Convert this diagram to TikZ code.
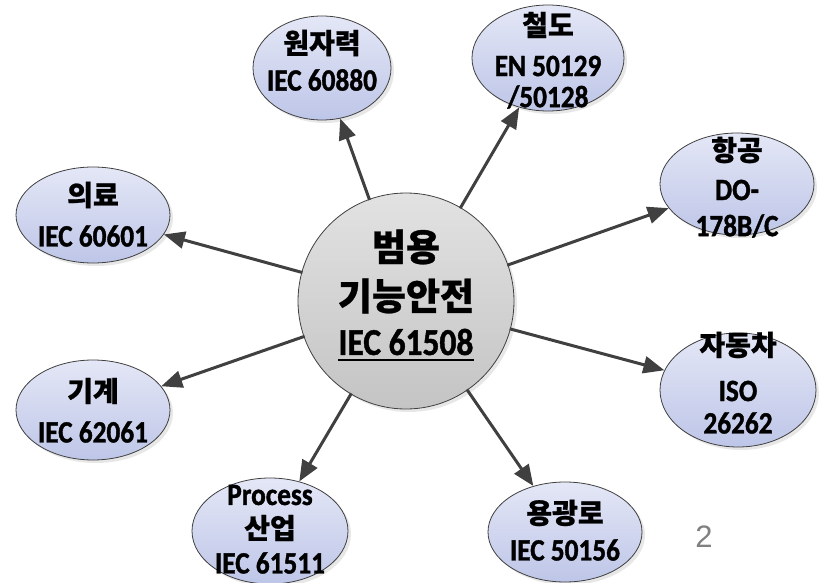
\documentclass[tikz,border=0pt]{standalone}
\usepackage{fontspec}
\setmainfont{Carlito}
\newfontfamily\calc{Carlito}[FakeStretch=0.88,FakeBold=1.2]
\newfontfamily\kr{Noto Sans CJK KR}[FakeBold=0.8]
\newfontfamily\arialf{Liberation Sans}
\usetikzlibrary{shapes.geometric,arrows.meta,shadows}
\definecolor{edge}{RGB}{64,64,64}
\definecolor{satTop}{RGB}{228,231,246}
\definecolor{satBot}{RGB}{190,198,232}
\definecolor{cenTop}{RGB}{226,226,226}
\definecolor{cenBot}{RGB}{196,196,196}
\tikzset{
  sat/.style={ellipse, draw=edge, line width=0.8pt, top color=satTop, bottom color=satBot,
    inner sep=0pt, drop shadow={shadow xshift=3pt, shadow yshift=-3pt, fill=black!18}},
  cen/.style={circle, draw=edge, line width=0.8pt, top color=cenTop, bottom color=cenBot,
    inner sep=0pt, minimum size=216pt,
    drop shadow={shadow xshift=3pt, shadow yshift=-3pt, fill=black!18}},
  krs/.style={inner sep=0pt, font=\kr\bfseries\fontsize{28}{30}\selectfont},
  las/.style={inner sep=0pt, font=\calc\bfseries\fontsize{31}{34}\selectfont},
  krc/.style={inner sep=0pt, font=\kr\bfseries\fontsize{37}{40}\selectfont},
  lac/.style={inner sep=0pt, font=\calc\bfseries\fontsize{38}{40}\selectfont},
  arr/.style={draw=edge, line width=3pt, -{Triangle[length=21pt,width=17pt]}, shorten <=-1pt},
}
\begin{document}
\begin{tikzpicture}[x=1pt,y=-1pt]
\useasboundingbox[fill=white] (0,0) rectangle (820,583);

% center
\node[cen] (c) at (406,301) {};
\node[krc] (c1) at (406,247) {범용};
\node[krc] (c2) at (406,296) {기능안전};
\node[lac] (c3) at (406,342) {IEC 61508};
\draw[line width=1.8pt] ([yshift=-5pt]c3.base west) -- ([yshift=-5pt]c3.base east);

% satellites
\node[sat, minimum width=138pt, minimum height=104pt] (s1) at (322,68) {};
\node[krs] at (322,43) {원자력};
\node[las] at (322,80) {IEC 60880};

\node[sat, minimum width=152pt, minimum height=106pt] (s2) at (548,58) {};
\node[krs] at (548,25) {철도};
\node[las] at (548,66) {EN 50129};
\node[las] at (548,97) {/50128};

\node[sat, minimum width=154pt, minimum height=102pt] (s3) at (737,184) {};
\node[krs] at (737,150) {항공};
\node[las] at (737,190) {DO-};
\node[las] at (737,226) {178B/C};

\node[sat, minimum width=156pt, minimum height=114pt] (s4) at (738,390) {};
\node[krs] at (738,345) {자동차};
\node[las] at (738,391) {ISO};
\node[las] at (738,423) {26262};

\node[sat, minimum width=154pt, minimum height=100pt] (s5) at (565,532) {};
\node[krs] at (565,513) {용광로};
\node[las] at (565,550) {IEC 50156};

\node[sat, minimum width=156pt, minimum height=106pt] (s6) at (270,531) {};
\node[las] at (270,495) {Process};
\node[krs] at (270,528) {산업};
\node[las] at (270,563) {IEC 61511};

\node[sat, minimum width=154pt, minimum height=100pt] (s7) at (93,410) {};
\node[krs] at (93,391) {기계};
\node[las] at (93,432) {IEC 62061};

\node[sat, minimum width=154pt, minimum height=96pt] (s8) at (93,215) {};
\node[krs] at (93,195) {의료};
\node[las] at (93,236) {IEC 60601};

% arrows
\foreach \s in {s1,s2,s3,s4,s5,s6,s7,s8} \draw[arr] (c) -- (\s);

% page number
\node[inner sep=0pt, text=black!50, font=\arialf\fontsize{31}{34}\selectfont] (pg) at (704,537) {2};
\end{tikzpicture}
\end{document}
